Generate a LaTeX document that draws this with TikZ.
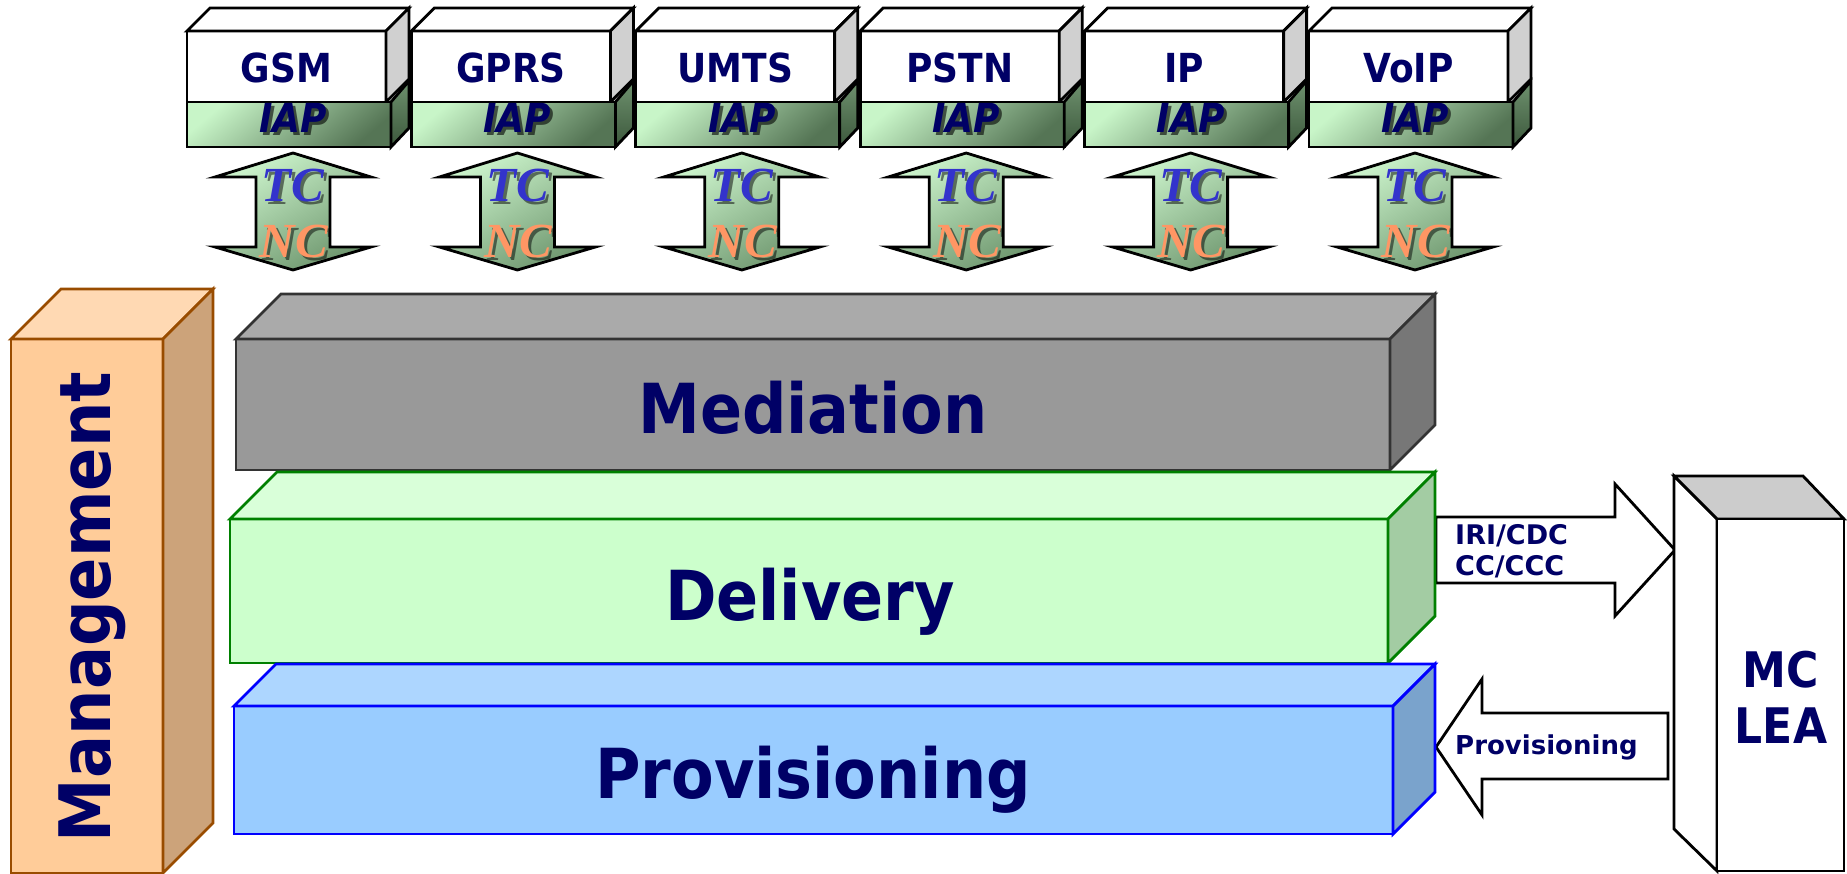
\documentclass[tikz,border=0pt]{standalone}
\usepackage{fontspec}
\newfontfamily\tah{DejaVu Sans Condensed}
\newfontfamily\dvs{DejaVu Sans}
\newfontfamily\iapfont{DejaVu Sans Condensed Bold Oblique}
\newfontfamily\tcfont{Liberation Serif Bold Italic}
\definecolor{navy}{RGB}{0,0,102}
\definecolor{tcblue}{RGB}{51,51,204}
\definecolor{ncorange}{RGB}{255,150,100}
\definecolor{mgF}{RGB}{255,204,153}
\definecolor{mgT}{RGB}{255,217,179}
\definecolor{mgS}{RGB}{204,163,122}
\definecolor{mgB}{RGB}{153,76,0}
\definecolor{medF}{RGB}{153,153,153}
\definecolor{medT}{RGB}{170,170,170}
\definecolor{medS}{RGB}{119,119,119}
\definecolor{medB}{RGB}{51,51,51}
\definecolor{delF}{RGB}{204,255,204}
\definecolor{delT}{RGB}{217,255,217}
\definecolor{delS}{RGB}{163,204,163}
\definecolor{delB}{RGB}{0,128,0}
\definecolor{proF}{RGB}{153,204,255}
\definecolor{proT}{RGB}{173,214,255}
\definecolor{proS}{RGB}{122,163,204}
\definecolor{proB}{RGB}{0,0,255}
\definecolor{sidegray}{RGB}{208,208,208}
\definecolor{topgray}{RGB}{204,204,204}
\definecolor{iapL}{RGB}{200,245,200}
\definecolor{iapD}{RGB}{85,117,85}
\definecolor{iapSL}{RGB}{110,145,110}
\definecolor{iapSD}{RGB}{60,88,60}
\definecolor{arrL}{RGB}{205,245,205}
\definecolor{arrD}{RGB}{110,150,110}
\tikzset{
  cube/.style={line width=2.8pt, line join=miter},
  tb/.style={line width=2.8pt, line join=miter, draw=black},
  blockarrow/.style={line width=2.8pt, line join=miter, draw=black, fill=white},
  biglabel/.style={font=\tah\bfseries\fontsize{69}{80}\selectfont, text=navy, inner sep=0pt, anchor=base},
  toplabel/.style={font=\tah\bfseries\fontsize{40}{48}\selectfont, text=navy, inner sep=0pt, anchor=base},
  iaplabel/.style={font=\iapfont\fontsize{40}{46}\selectfont, inner sep=0pt, anchor=base},
  tclabel/.style={font=\tcfont\fontsize{49}{56}\selectfont, inner sep=0pt, anchor=base},
  smalllabel/.style={font=\dvs\bfseries\fontsize{#1}{#1}\selectfont, text=navy, inner sep=0pt, anchor=base west},
  lealabel/.style={font=\tah\bfseries\fontsize{49}{56}\selectfont, text=navy, inner sep=0pt, anchor=base}
}
% #1,#2 front top-left; #3,#4 front bottom-right; #5 depth; #6 front, #7 top, #8 side, #9 border
\newcommand\mycube[9]{%
  \filldraw[cube, draw=#9, fill=#6] (#1,#2) rectangle (#3,#4);
  \filldraw[cube, draw=#9, fill=#7] (#1,#2) -- (#1+#5,#2-#5) -- (#3+#5,#2-#5) -- (#3,#2) -- cycle;
  \filldraw[cube, draw=#9, fill=#8] (#3,#2) -- (#3+#5,#2-#5) -- (#3+#5,#4-#5) -- (#3,#4) -- cycle;
}
\begin{document}
\begin{tikzpicture}[x=1pt,y=-1pt]
\useasboundingbox (0,0) rectangle (1847,874);

% Management
\mycube{11}{339}{163}{873}{50}{mgF}{mgT}{mgS}{mgB}
\node[biglabel, font=\tah\bfseries\fontsize{71}{80}\selectfont, rotate=90] (mgmt) at (110,607) {Management};

% Mediation
\mycube{236}{339}{1390}{470}{45}{medF}{medT}{medS}{medB}
\node[biglabel] (med) at (813,433) {Mediation};

% IRI arrow (behind delivery)
\filldraw[blockarrow] (1436,517) coordinate (iriS) -- (1615,517) -- (1615,484) -- (1675,550) coordinate (iriT) -- (1615,616) -- (1615,583) -- (1436,583) -- cycle;
\node[smalllabel=27] (iri) at (1455,544) {IRI/CDC};
\node[smalllabel=27] (cc) at (1455,575) {CC/CCC};

% Delivery
\mycube{230}{519}{1388}{663}{47}{delF}{delT}{delS}{delB}
\node[biglabel] (del) at (810,620) {Delivery};

% Provisioning arrow
\filldraw[blockarrow] (1668,713) -- (1482,713) -- (1482,679) -- (1436,747) coordinate (proT) -- (1482,815) -- (1482,779) -- (1668,779) -- cycle;
\node[smalllabel=26] (prolab) at (1455,754) {Provisioning};

% Provisioning layer
\mycube{234}{706}{1393}{834}{42}{proF}{proT}{proS}{proB}
\node[biglabel] (pro) at (813,798) {Provisioning};

% MC LEA
\filldraw[tb, fill=white] (1674,476) -- (1717,519) -- (1717,871) -- (1674,829) -- cycle;
\filldraw[tb, fill=topgray] (1674,476) -- (1803,476) -- (1844,519) -- (1717,519) -- cycle;
\filldraw[tb, fill=white] (1717,519) rectangle (1844,871);
\node[lealabel] (mc) at (1781,687) {MC};
\node[lealabel] (lea) at (1781,743) {LEA};

% Top boxes
\foreach \lab [count=\i from 0] in {GSM,GPRS,UMTS,PSTN,IP,VoIP}{
  \begin{scope}[xshift={187+224.4*\i}]
    \filldraw[tb, fill=white] (0,31) rectangle (199,102);
    \filldraw[tb, fill=white] (0,31) -- (23,8) -- (222,8) -- (199,31) -- cycle;
    \filldraw[tb, fill=sidegray] (199,31) -- (222,8) -- (222,79) -- (199,102) -- cycle;
    \draw[tb, top color=iapL, bottom color=iapD, shading angle=40] (0,102) rectangle (204,147);
    \draw[tb, top color=iapSL, bottom color=iapSD] (204,102) -- (222,81) -- (222,128) -- (204,147) -- cycle;
    \node[toplabel] (net\i) at (99.5,83) {\lab};
    \node[iaplabel, text=black, opacity=0.6] at (109,136) {IAP};
    \node[iaplabel, text=navy] (iap\i) at (106,133) {IAP};
    \draw[tb, top color=arrL, bottom color=arrD, shading angle=30] (106,153) -- (184,177) -- (143,177) -- (143,247) -- (184,247) -- (106,270) -- (28,247) -- (69,247) -- (69,177) -- (28,177) -- cycle;
    \node[tclabel, text=black, opacity=0.5] at (109,205) {TC};
    \node[tclabel, text=tcblue] (tc\i) at (106,202) {TC};
    \node[tclabel, text=black, opacity=0.5] at (110,261) {NC};
    \node[tclabel, text=ncorange] (nc\i) at (107,258) {NC};
  \end{scope}
}
\end{tikzpicture}
\end{document}
